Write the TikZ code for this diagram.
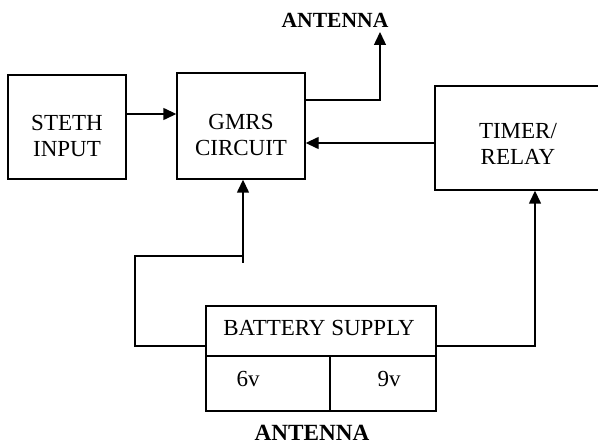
\documentclass[tikz,border=0pt]{standalone}
\usepackage{fontspec}
\setmainfont{Liberation Serif}
\usetikzlibrary{arrows.meta}
\begin{document}
\begin{tikzpicture}[x=1pt,y=-1pt,
  blk/.style={draw,line width=1.4pt,rectangle,inner sep=0pt},
  lbl/.style={font=\fontsize{23}{26}\selectfont,align=center,inner sep=0pt},
  wire/.style={line width=1.4pt},
  arr/.style={line width=1.4pt,-{Triangle[length=13pt,width=12pt]}},
  ttl/.style={font=\fontsize{21.6}{26}\selectfont\bfseries,inner sep=0pt}]
\useasboundingbox (0,0) rectangle (598,446);
% boxes
\node[blk,minimum width=118pt,minimum height=104pt] (steth) at (67,127) {};
\node[blk,minimum width=128pt,minimum height=106pt] (gmrs) at (241,126) {};
\node[blk,minimum width=165pt,minimum height=104pt] (timer) at (517.5,138) {};
\node[blk,minimum width=230pt,minimum height=105pt] (batt) at (321,358.5) {};
% texts
\node[lbl] (tsteth) at (67,136) {STETH\\INPUT};
\node[lbl] (tgmrs) at (241,135) {GMRS\\CIRCUIT};
\node[lbl] (ttimer) at (518,144) {TIMER/\\RELAY};
\node[lbl] (tbatt) at (319,328) {BATTERY SUPPLY};
\node[lbl] (t6) at (248,379) {6v};
\node[lbl] (t9) at (389,379) {9v};
\node[ttl] (anttop) at (335,20) {ANTENNA};
\node[ttl,font=\fontsize{23.2}{26}\selectfont\bfseries] (antbot) at (312,433) {ANTENNA};
% battery dividers
\coordinate (bdl) at (206,356);
\coordinate (bdr) at (436,356);
\coordinate (bdm) at (330,356);
\draw[wire] (bdl) -- (bdr);
\draw[wire] (bdm) -- (bdm |- batt.south);
% connectors
\draw[arr] ([yshift=13pt]steth.east) -- ([yshift=13pt]steth.east -| gmrs.west);
\coordinate (antcorner) at (380,100);
\coordinate (anttip) at (380,32);
\draw[arr] (gmrs.east |- antcorner) -- (antcorner) -- (anttip);
\draw[arr] ([yshift=-5pt]timer.west) -- ([yshift=-5pt]timer.west -| gmrs.east);
\coordinate (bl) at (206,346);
\coordinate (lc) at (135,256);
\coordinate (stub) at (243,263);
\coordinate (jn) at (243,256);
\draw[wire] (bl) -| (lc) -- (jn);
\draw[arr] (stub) -- (stub |- gmrs.south);
\coordinate (br) at (436,346);
\coordinate (rc) at (535,346);
\draw[arr] (br) -- (rc) -- (rc |- timer.south);
\end{tikzpicture}
\end{document}
